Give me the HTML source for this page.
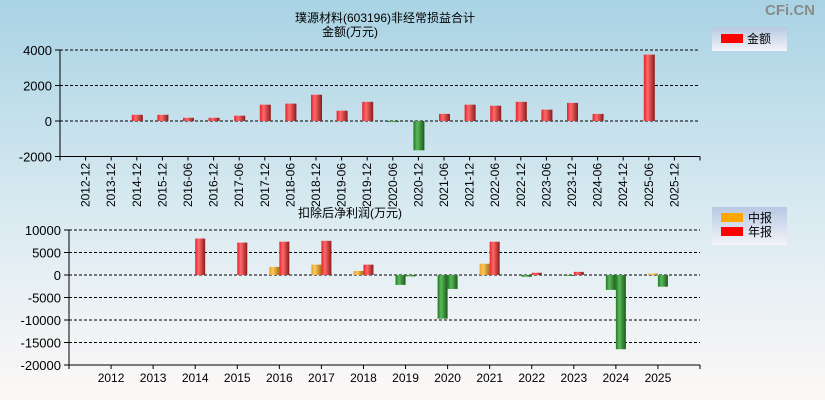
<!DOCTYPE html>
<html><head><meta charset="utf-8"><style>
html,body{margin:0;padding:0;width:825px;height:400px;overflow:hidden}
svg{display:block;font-family:"Liberation Sans","Noto Sans CJK SC",sans-serif}
</style></head><body>
<svg id="c" width="825" height="400">
<defs>
<linearGradient id="bg" x1="0" y1="0" x2="0" y2="1"><stop offset="0" stop-color="#a9d3e4"/><stop offset="0.55" stop-color="#dbebf2"/><stop offset="1" stop-color="#fdf8f7"/></linearGradient>
<linearGradient id="gr" x1="0" x2="1"><stop offset="0" stop-color="#e8202a"/><stop offset="0.35" stop-color="#ff6a6a"/><stop offset="1" stop-color="#8c1a1a"/></linearGradient>
<linearGradient id="gg" x1="0" x2="1"><stop offset="0" stop-color="#1e7a1e"/><stop offset="0.35" stop-color="#5cb85c"/><stop offset="1" stop-color="#1a5a1a"/></linearGradient>
<linearGradient id="go" x1="0" x2="1"><stop offset="0" stop-color="#e8a020"/><stop offset="0.35" stop-color="#ffc860"/><stop offset="1" stop-color="#a87010"/></linearGradient>
<linearGradient id="lg" x1="0" y1="0" x2="0" y2="1"><stop offset="0" stop-color="#b7c8e2"/><stop offset="1" stop-color="#f3f3f8"/></linearGradient>
</defs>
<rect width="825" height="400" fill="url(#bg)"/>
<text x="790" y="15" font-size="15" font-weight="bold" fill="#8a8a8a" text-anchor="middle">CFi.CN</text>
<text x="385" y="22" font-size="12" text-anchor="middle">璞源材料(603196)非经常损益合计</text>
<text x="350" y="36" font-size="12" text-anchor="middle">金额(万元)</text>
<text x="350" y="217" font-size="12" text-anchor="middle">扣除后净利润(万元)</text>
<g>
<rect x="712" y="27" width="75" height="24" fill="url(#lg)"/>
<rect x="721" y="34" width="22" height="9" fill="#ff0000"/>
<text x="747" y="43" font-size="12">金额</text>
</g>
<g>
<rect x="712" y="207" width="75" height="38" fill="url(#lg)"/>
<rect x="721" y="213" width="22" height="9" fill="#ffa500"/>
<text x="748" y="222" font-size="12">中报</text>
<rect x="721" y="227" width="22" height="9" fill="#ff0000"/>
<text x="748" y="236" font-size="12">年报</text>
</g>
<g id="g1"></g><g id="g2"></g>
</svg>
<script>
const topCats=["2012-12","2013-12","2014-12","2015-12","2016-06","2016-12","2017-06","2017-12","2018-06","2018-12","2019-06","2019-12","2020-06","2020-12","2021-06","2021-12","2022-06","2022-12","2023-06","2023-12","2024-06","2024-12","2025-06","2025-12"];
const topVals=[0,0,350,350,180,180,300,920,980,1480,580,1080,-60,-1650,400,920,860,1080,640,1020,400,0,3740,0];
const topTicks=[4000,2000,0,-2000];
const botCats=["2012","2013","2014","2015","2016","2017","2018","2019","2020","2021","2022","2023","2024","2025"];
const midVals=[0,0,0,0,1800,2300,900,-2200,-9700,2500,-400,-200,-3300,300];
const annVals=[0,0,8100,7200,7400,7600,2300,-300,-3100,7400,500,700,-16500,-2600];
const botTicks=[10000,5000,0,-5000,-10000,-15000,-20000];
const NS="http://www.w3.org/2000/svg";
function mk(p,t,a){const e=document.createElementNS(NS,t);for(const k in a)e.setAttribute(k,a[k]);p.appendChild(e);return e;}
// top chart
const g1=document.getElementById('g1');
const L1=60,R1=700,slot1=(R1-L1)/(topCats.length+1);
const y1=v=>121-(v/2000)*35.5;
topTicks.forEach(t=>{
 const l=mk(g1,'line',{x1:L1,x2:R1,y1:y1(t),y2:y1(t),stroke:'#000','stroke-dasharray':t===-2000?'':'3,2'});
 
 
 const tx=mk(g1,'text',{x:L1-8,y:y1(t)+5,'font-size':'13','text-anchor':'end'});tx.textContent=t;
 
 
 mk(g1,'line',{x1:L1-5,x2:L1,y1:y1(t),y2:y1(t),stroke:'#000'});
});
mk(g1,'line',{x1:L1,x2:L1,y1:y1(4000),y2:y1(-2000)+4,stroke:'#000'});
mk(g1,'line',{x1:R1,x2:R1,y1:y1(-2000),y2:y1(-2000)+4,stroke:'#000'});
topCats.forEach((c,i)=>{
 const cx=L1+slot1*(i+1);
 mk(g1,'line',{x1:cx,x2:cx,y1:y1(-2000),y2:y1(-2000)+4,stroke:'#000'});
 const tx=mk(g1,'text',{x:0,y:0,'font-size':'12','text-anchor':'end',transform:`translate(${cx+4},163) rotate(-90)`});tx.textContent=c;
 
 
 const v=topVals[i];if(!v)return;
 const yt=Math.min(y1(v),y1(0)),h=Math.abs(y1(v)-y1(0));
 const b=mk(g1,'rect',{x:cx-5,y:yt,width:11,height:h,fill:v>0?'url(#gr)':'url(#gg)'});
 
 
});
// bottom chart
const g2=document.getElementById('g2');
const L2=69,R2=700,slot2=(R2-L2)/(botCats.length+1);
const y2=v=>275-(v/1000)*4.5;
botTicks.forEach(t=>{
 const l=mk(g2,'line',{x1:L2,x2:R2,y1:y2(t),y2:y2(t),stroke:'#000','stroke-dasharray':t===-20000?'':'3,2'});
 
 
 const tx=mk(g2,'text',{x:L2-8,y:y2(t)+5,'font-size':'13','text-anchor':'end'});tx.textContent=t;
 
 
 mk(g2,'line',{x1:L2-5,x2:L2,y1:y2(t),y2:y2(t),stroke:'#000'});
});
mk(g2,'line',{x1:L2,x2:L2,y1:y2(10000),y2:y2(-20000)+4,stroke:'#000'});
mk(g2,'line',{x1:R2,x2:R2,y1:y2(-20000),y2:y2(-20000)+4,stroke:'#000'});
botCats.forEach((c,i)=>{
 const cx=L2+slot2*(i+1);
 mk(g2,'line',{x1:cx,x2:cx,y1:y2(-20000),y2:y2(-20000)+4,stroke:'#000'});
 const tx=mk(g2,'text',{x:cx,y:382,'font-size':'12','text-anchor':'middle'});tx.textContent=c;
 
 
 [[midVals[i],cx-10,'url(#go)'],[annVals[i],cx,'url(#gr)']].forEach(([v,x,f])=>{
  if(!v)return;
  const yt=Math.min(y2(v),y2(0)),h=Math.max(1,Math.abs(y2(v)-y2(0)));
  const b=mk(g2,'rect',{x:x,y:yt,width:10,height:h,fill:v>0?f:'url(#gg)'});
  
  
 });
});
</script>
</body></html>
